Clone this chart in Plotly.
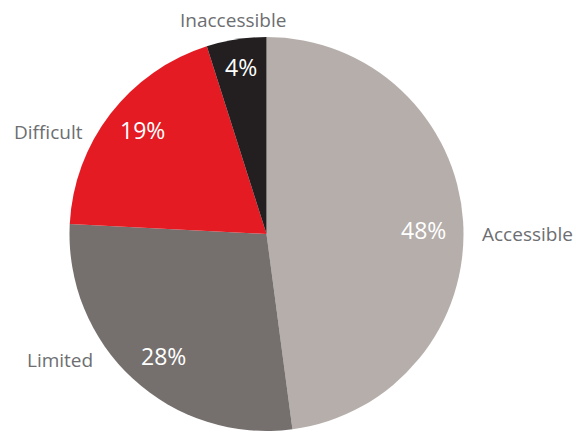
import math
import plotly.graph_objects as go

categories = ["Accessible", "Limited", "Difficult", "Inaccessible"]
values = [47.9, 27.9, 19.3, 4.9]
pct_labels = ["48%", "28%", "19%", "4%"]
colors = ["#b5aeab", "#75706e", "#e41b23", "#231f20"]

W, H = 576, 432
cx, cy, R = 266.5, 234.0, 197.0  # pixel center (from top) and radius

fig = go.Figure(go.Pie(
    labels=categories,
    values=values,
    sort=False,
    direction="clockwise",
    rotation=0,
    marker=dict(colors=colors, line=dict(width=0)),
    textinfo="none",
    hoverinfo="label+percent",
    showlegend=False,
    domain=dict(x=[(cx - R) / W, (cx + R) / W],
                y=[(H - cy - R) / H, (H - cy + R) / H]),
))

def to_paper(angle_deg, rfrac):
    a = math.radians(angle_deg)
    px = cx + R * rfrac * math.sin(a)
    py = cy - R * rfrac * math.cos(a)
    return px / W, 1 - py / H

total = sum(values)
start = 0.0
rfracs = [0.80, 0.82, 0.82, 0.85]
shifts = [(0, -6), (6, -3), (4, 5), (0, 2)]
for v, t, rf, (sx, sy) in zip(values, pct_labels, rfracs, shifts):
    span = v / total * 360
    mid = start + span / 2
    x, y = to_paper(mid, rf)
    fig.add_annotation(x=x, y=y, xref="paper", yref="paper", text=t,
                       showarrow=False, xanchor="center", yanchor="middle",
                       xshift=sx, yshift=sy,
                       font=dict(family="Open Sans", size=23, color="white"))
    start += span

outside = {"Accessible": (527, 234), "Limited": (60, 360),
           "Difficult": (48, 132), "Inaccessible": (233, 20)}
for name in categories:
    px, py = outside[name]
    fig.add_annotation(x=px / W, y=1 - py / H, xref="paper", yref="paper",
                       text=name, showarrow=False, xanchor="center", yanchor="middle",
                       font=dict(family="Open Sans", size=19, color="#6d6e71"))

fig.update_layout(width=W, height=H, margin=dict(l=0, r=0, t=0, b=0),
                  paper_bgcolor="white", plot_bgcolor="white")
fig.write_html("out.html", config={"displayModeBar": False},
               post_script="document.body.style.margin='0px';")
